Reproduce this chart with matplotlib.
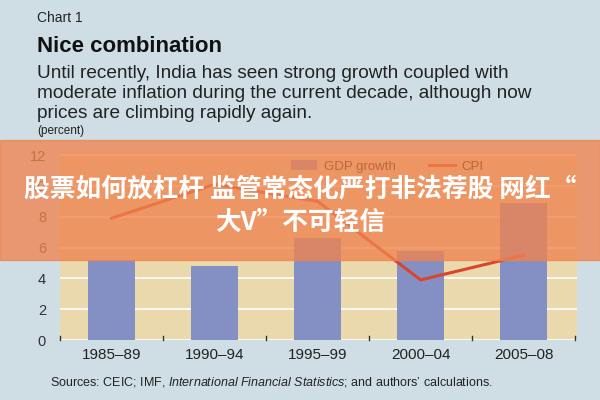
import matplotlib.pyplot as plt
import numpy as np
from matplotlib.patches import Rectangle

# dados
periods = ['1985–89', '1990–94', '1995–99', '2000–04', '2005–08']
gdp_growth = [5.2, 4.8, 6.6, 5.8, 8.9]
cpi = [7.9, 10.1, 9.0, 3.9, 5.5]
yticks = [0, 2, 4, 6, 8, 10, 12]

bg = '#cfdee4'
plt.rcParams['font.family'] = ['Liberation Sans', 'DejaVu Sans']
plt.rcParams['mathtext.fontset'] = 'custom'
plt.rcParams['mathtext.rm'] = 'Liberation Sans'
plt.rcParams['mathtext.it'] = 'Liberation Sans:italic'

fig = plt.figure(figsize=(6, 4), dpi=100, facecolor=bg)
ax = fig.add_axes([0.1, 0.15, 0.862, 0.47])
ax.set_facecolor('#e9d9ad')

x = np.arange(len(periods))
bars = ax.bar(x, gdp_growth, width=0.45, color='#8490c4', zorder=2, label='GDP growth')
line, = ax.plot(x, cpi, color='#d9452b', lw=2.2, zorder=3, label='CPI')

ax.set_xlim(-0.5, 4.52)
ax.set_ylim(0, 12.2)
ax.set_yticks(yticks)
ax.yaxis.grid(True, color='white', lw=1.2, zorder=1)
ax.set_axisbelow(True)
for s in ax.spines.values():
    s.set_visible(False)
ax.tick_params(axis='y', length=0, labelsize=10.5, labelcolor='#333333', pad=10)
ax.set_xticks(x)
ax.set_xticklabels(periods, fontsize=11, color='#222222')
ax.tick_params(axis='x', length=0, pad=6)
# pequenos traços nas divisões das categorias
for b in np.arange(-0.5, 5, 1):
    ax.plot([b, b], [0, 0.25], color='#333333', lw=1, zorder=4, clip_on=False)

leg = fig.legend([bars, line], ['GDP growth', 'CPI'], loc='upper left',
                 bbox_to_anchor=(291/600, 1 - 160/400), ncol=2,
                 frameon=False, fontsize=9.5, handlelength=2.0, handleheight=0.8,
                 handletextpad=0.5, columnspacing=2.5, borderpad=0, borderaxespad=0)
leg.set_zorder(4)

# textos do cabeçalho
fig.text(0.062, 0.955, 'Chart 1', fontsize=10, color='#222222', va='center')
fig.text(0.062, 0.885, 'Nice combination', fontsize=16, fontweight='bold', color='#111111', va='center')
sub = ('Until recently, India has seen strong growth coupled with\n'
       'moderate inflation during the current decade, although now\n'
       'prices are climbing rapidly again.')
fig.text(0.062, 0.767, sub, fontsize=13.7, color='#222222', va='center', linespacing=1.22)
fig.text(0.062, 0.672, '(percent)', fontsize=8.5, color='#222222', va='center')

fig.text(0.083, 0.037,
         r'Sources: CEIC; IMF, $\it{International\ Financial\ Statistics}$; and authors’ calculations.',
         fontsize=9, color='#222222', va='baseline')

# faixa laranja com a manchete
fig.patches.append(Rectangle((0, 0.35), 1, 0.30, transform=fig.transFigure,
                             color='#f0834f', alpha=0.78, zorder=5))
fig.text(0.5, 0.485, '股票如何放杠杆 监管常态化严打非法荐股 网红\u201c\n大V\u201d不可轻信',
         fontsize=18.5, fontweight='bold', color='white', ha='center', va='center',
         linespacing=1.3, family=['Noto Sans CJK SC', 'DejaVu Sans'], zorder=6)

fig.savefig('out.png', dpi=100, facecolor=bg)
